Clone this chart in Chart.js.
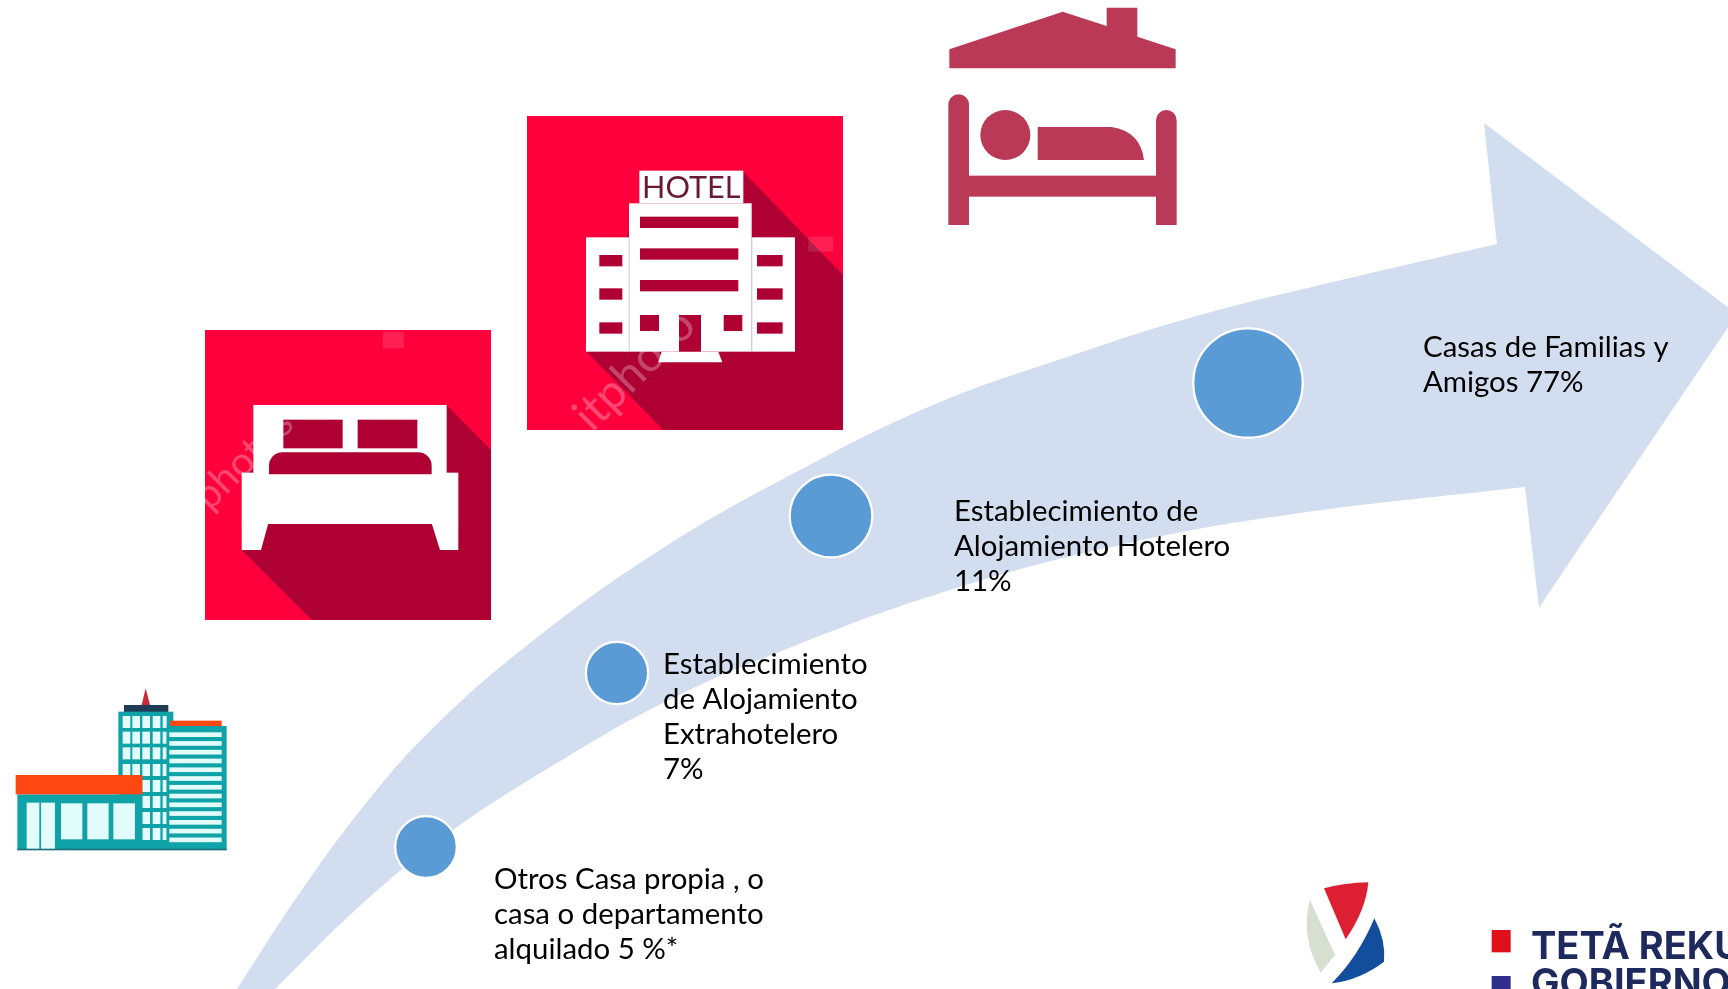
<!DOCTYPE html>
<html>
<head>
<meta charset="utf-8">
<title>Alojamiento</title>
<script src="https://cdn.jsdelivr.net/npm/chart.js@4"></script>
<style>
  html, body { margin: 0; padding: 0; background: #fff; overflow: hidden; }
  #chart { display: block; }
</style>
</head>
<body>
<canvas id="chart" width="1728" height="989"></canvas>
<script>
// Data
const categories = ['Otros Casa propia', 'Alojamiento Extrahotelero', 'Alojamiento Hotelero', 'Casas de Familias y Amigos'];
const shares = [5, 7, 11, 77];
const nodeX = [426, 617, 831, 1248];
const nodeY = [847, 673, 516, 383];
const nodeRadius = [30.8, 31.1, 41.3, 54.7];

// Label text, line by line
const labelLines = [
    ['Otros Casa propia , o', 'casa o departamento', 'alquilado 5 %*'],
    ['Establecimiento', 'de Alojamiento', 'Extrahotelero', '7%'],
    ['Establecimiento de', 'Alojamiento Hotelero', '11%'],
    ['Casas de Familias y', 'Amigos 77%']
];
const labelX = [494, 663, 954, 1423];
const labelY = [889, 674, 521, 357];

// Outline of the arrow, clockwise from the tail. Corners are listed twice to stay sharp
const arrowX = [237, 237, 297, 363, 430, 530, 663, 800, 933, 1067, 1200, 1350, 1497, 1497, 1484, 1484, 1737, 1737, 1539, 1539, 1525, 1525, 1300, 1129, 950, 771, 663, 562, 453, 363, 275, 275];
const arrowY = [989, 989, 897, 807, 731, 643, 548, 470, 405, 357, 315, 278, 244, 244, 123, 123, 314, 314, 608, 608, 487, 487, 513, 543, 590, 655, 703, 760, 830, 903, 989, 989];

// Shapes for the pictures, in crop coordinates scaled by 3
function rect(ctx, color, x0, y0, x1, y1) {
    ctx.fillStyle = color;
    ctx.fillRect(x0, y0, x1 - x0, y1 - y0);
}

function poly(ctx, color, pts) {
    ctx.fillStyle = color;
    ctx.beginPath();
    pts.forEach((p, i) => i ? ctx.lineTo(p[0], p[1]) : ctx.moveTo(p[0], p[1]));
    ctx.closePath();
    ctx.fill();
}

function inCrop(ctx, x, y, draw) {
    ctx.save();
    ctx.translate(x, y);
    ctx.scale(1 / 3, 1 / 3);
    draw();
    ctx.restore();
}

function faintText(ctx, text, x, y, size) {
    ctx.save();
    ctx.translate(x, y);
    ctx.rotate(-Math.PI / 4);
    ctx.font = size + 'px Lato';
    ctx.fillStyle = 'rgba(255,255,255,0.28)';
    ctx.fillText(text, 0, 0);
    ctx.restore();
}

function drawBuilding(ctx) {
    const teal = '#0fa3a8', light = '#e2fbfb', orange = '#ff4713';
    inCrop(ctx, 0, 660, () => {
        poly(ctx, '#c8283c', [[437, 85], [425, 135], [450, 135]]);
        rect(ctx, '#1f3b55', 372, 135, 505, 156);
        rect(ctx, teal, 355, 155, 520, 570);
        const cols = [368, 397, 427, 458, 488];
        const rows = [168, 215, 262, 312, 360, 408, 456, 504];
        rows.forEach(r => cols.forEach(c => rect(ctx, light, c, r, c + (c === 488 ? 12 : 23), r + 36)));
        rect(ctx, orange, 510, 182, 665, 198);
        rect(ctx, teal, 500, 198, 680, 570);
        for (let i = 0; i < 13; i++) {
            rect(ctx, light, 508, 217 + i * 26.3, 665, 231 + i * 26.3);
        }
        rect(ctx, teal, 52, 403, 427, 570);
        rect(ctx, orange, 47, 345, 427, 403);
        rect(ctx, light, 80, 428, 165, 568);
        rect(ctx, teal, 118, 428, 123, 568);
        rect(ctx, light, 183, 430, 247, 538);
        rect(ctx, light, 262, 430, 326, 538);
        rect(ctx, light, 340, 430, 405, 538);
        rect(ctx, '#1a6f78', 52, 566, 680, 571);
    });
}

function drawDoubleBed(ctx) {
    const red = '#ff003c', dark = '#ae0032';
    inCrop(ctx, 190, 320, () => {
        rect(ctx, red, 45, 30, 903, 900);
        poly(ctx, dark, [[770, 255], [903, 390], [903, 900], [365, 900], [155, 690], [155, 460]]);
        rect(ctx, '#fff', 190, 255, 770, 460);
        rect(ctx, '#fff', 155, 458, 805, 612);
        poly(ctx, '#fff', [[155, 610], [235, 610], [213, 690], [155, 690]]);
        poly(ctx, '#fff', [[725, 610], [805, 610], [805, 690], [750, 690]]);
        rect(ctx, dark, 280, 299, 458, 385);
        rect(ctx, dark, 503, 299, 682, 385);
        ctx.fillStyle = dark;
        ctx.beginPath();
        ctx.roundRect(237, 397, 488, 66, [40, 40, 0, 0]);
        ctx.fill();
        faintText(ctx, 'photos', 60, 575, 120);
        rect(ctx, 'rgba(255,255,255,0.12)', 578, 35, 642, 85);
    });
}

function drawHotel(ctx) {
    const red = '#ff003c', dark = '#ae0032';
    inCrop(ctx, 515, 105, () => {
        rect(ctx, red, 36, 33, 984, 975);
        poly(ctx, dark, [[685, 200], [984, 510], [984, 975], [445, 975], [215, 740], [373, 290]]);
        rect(ctx, '#fff', 373, 197, 685, 295);
        rect(ctx, '#fff', 342, 295, 710, 740);
        rect(ctx, '#fff', 213, 397, 342, 740);
        rect(ctx, '#fff', 710, 397, 840, 740);
        poly(ctx, '#fff', [[440, 740], [610, 740], [622, 772], [430, 772]]);
        rect(ctx, '#c9ced2', 341, 397, 344, 740);
        rect(ctx, '#c9ced2', 709, 397, 712, 740);
        [335, 430, 525].forEach(y => rect(ctx, dark, 375, y, 670, y + 34));
        [450, 550, 652].forEach(y => {
            rect(ctx, dark, 253, y, 322, y + 34);
            rect(ctx, dark, 726, y, 803, y + 34);
        });
        rect(ctx, dark, 375, 630, 432, 678);
        rect(ctx, dark, 626, 630, 682, 678);
        rect(ctx, dark, 492, 630, 558, 740);
        ctx.font = '92px Lato';
        ctx.fillStyle = '#6b1a33';
        ctx.fillText('HOTEL', 381, 280);
        faintText(ctx, 'itphoto', 232, 985, 140);
        rect(ctx, 'rgba(255,255,255,0.12)', 880, 395, 955, 440);
    });
}

function drawHouseBed(ctx) {
    const wine = '#b93957';
    inCrop(ctx, 930, 0, () => {
        poly(ctx, wine, [[58, 148], [398, 35], [530, 78], [530, 23], [622, 23], [622, 110], [737, 148], [737, 205], [58, 205]]);
        ctx.fillStyle = wine;
        ctx.beginPath();
        ctx.roundRect(55, 283, 62, 392, [31, 31, 0, 0]);
        ctx.roundRect(678, 330, 62, 345, [31, 31, 0, 0]);
        ctx.fill();
        rect(ctx, wine, 117, 527, 678, 590);
        ctx.beginPath();
        ctx.arc(226, 405, 75, 0, Math.PI * 2);
        ctx.fill();
        ctx.beginPath();
        ctx.moveTo(323, 381);
        ctx.lineTo(545, 381);
        ctx.quadraticCurveTo(632, 395, 642, 480);
        ctx.lineTo(323, 480);
        ctx.closePath();
        ctx.fill();
    });
}

function drawLogo(ctx) {
    inCrop(ctx, 1280, 860, () => {
        ctx.fillStyle = '#dc1f32';
        ctx.beginPath();
        ctx.moveTo(132, 85);
        ctx.quadraticCurveTo(195, 68, 265, 67);
        ctx.quadraticCurveTo(258, 150, 197, 238);
        ctx.closePath();
        ctx.fill();
        ctx.fillStyle = '#d7dfd1';
        ctx.beginPath();
        ctx.moveTo(90, 120);
        ctx.lineTo(165, 285);
        ctx.lineTo(122, 338);
        ctx.quadraticCurveTo(60, 230, 90, 120);
        ctx.fill();
        ctx.fillStyle = '#124e9b';
        ctx.beginPath();
        ctx.moveTo(283, 175);
        ctx.quadraticCurveTo(318, 240, 312, 305);
        ctx.quadraticCurveTo(240, 360, 155, 370);
        ctx.quadraticCurveTo(235, 290, 283, 175);
        ctx.fill();
        rect(ctx, '#e0101a', 635, 210, 692, 277);
        rect(ctx, '#2e2f88', 635, 348, 692, 400);
    });
    ctx.font = 'bold 38px Inter';
    ctx.fillStyle = '#1e2a5e';
    ctx.fillText('TETÃ REKUÁI', 1531, 959);
    ctx.fillText('GOBIERNO', 1531, 996);
}

// Pictures go under the marks, labels over them
const picturesPlugin = {
    id: 'pictures',
    beforeDatasetsDraw(chart) {
        const ctx = chart.ctx;
        ctx.save();
        ctx.textAlign = 'left';
        ctx.textBaseline = 'alphabetic';
        drawBuilding(ctx);
        drawDoubleBed(ctx);
        drawHotel(ctx);
        drawHouseBed(ctx);
        drawLogo(ctx);
        ctx.restore();
    }
};

const labelsPlugin = {
    id: 'stepLabels',
    afterDatasetsDraw(chart) {
        const ctx = chart.ctx;
        const x = chart.scales.x, y = chart.scales.y;
        ctx.save();
        ctx.font = '29.4px Lato';
        ctx.fillStyle = '#000';
        ctx.textAlign = 'left';
        ctx.textBaseline = 'alphabetic';
        labelLines.forEach((lines, i) => {
            lines.forEach((line, j) => {
                ctx.fillText(line, x.getPixelForValue(labelX[i]), y.getPixelForValue(labelY[i] + j * 35.1));
            });
        });
        ctx.restore();
    }
};

const ctx = document.getElementById('chart').getContext('2d');
const myChart = new Chart(ctx, {
    type: 'scatter',
    data: {
        labels: categories,
        datasets: [
            {
                label: 'Porcentaje',
                order: 0,
                data: shares.map((s, i) => ({ x: nodeX[i], y: nodeY[i], share: s })),
                backgroundColor: '#5b9bd5',
                borderColor: '#ffffff',
                borderWidth: 2.2,
                pointRadius: nodeRadius,
                pointHoverRadius: nodeRadius
            },
            {
                label: 'Flecha',
                order: 1,
                data: arrowX.map((v, i) => ({ x: v, y: arrowY[i] })),
                showLine: true,
                fill: 'shape',
                tension: 0.4,
                backgroundColor: '#d2deef',
                borderColor: '#d2deef',
                borderWidth: 0,
                pointRadius: 0,
                pointHoverRadius: 0
            }
        ]
    },
    options: {
        responsive: false,
        animation: false,
        layout: { padding: 0, autoPadding: false },
        plugins: {
            legend: { display: false },
            tooltip: { enabled: false }
        },
        scales: {
            x: { type: 'linear', min: 0, max: 1728, display: false },
            y: { type: 'linear', min: 0, max: 989, reverse: true, display: false }
        }
    },
    plugins: [picturesPlugin, labelsPlugin]
});
</script>
</body>
</html>
